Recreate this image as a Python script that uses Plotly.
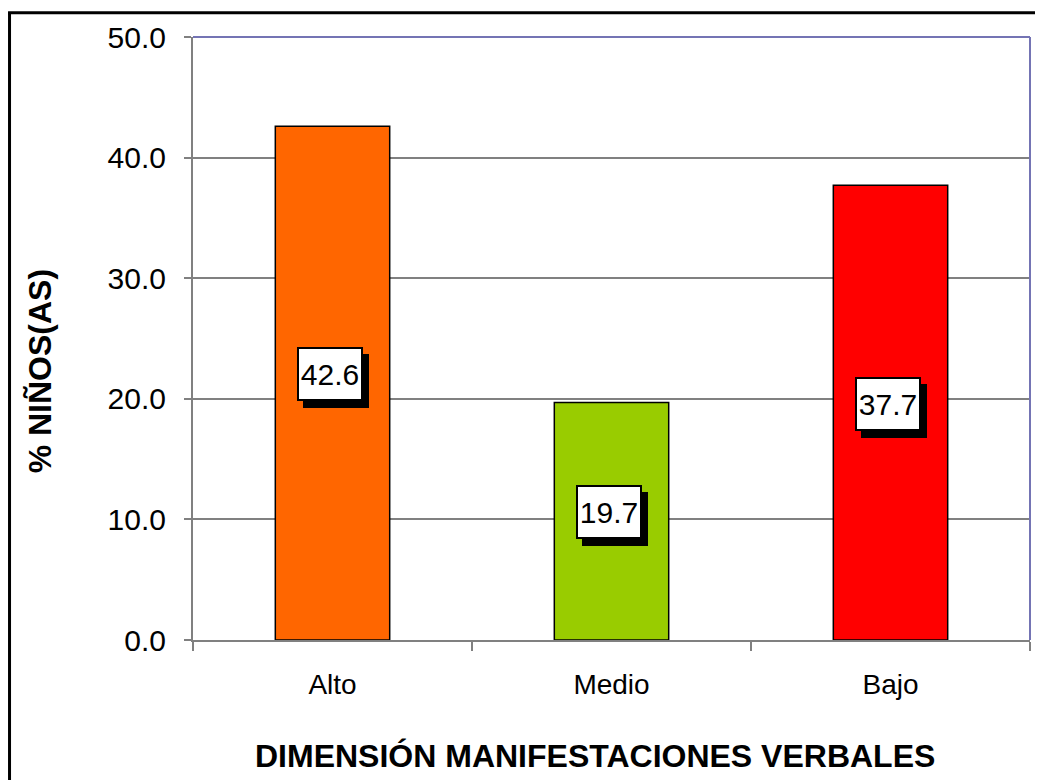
import plotly.graph_objects as go

categories = ["Alto", "Medio", "Bajo"]
values = [42.6, 19.7, 37.7]
bar_colors = ["#FF6600", "#99CC00", "#FF0000"]
y_ticks = [0, 10, 20, 30, 40, 50]
y_title = "% NIÑOS(AS)"
x_title = "DIMENSIÓN MANIFESTACIONES VERBALES"

FONT = "Liberation Sans, Arial, sans-serif"

fig = go.Figure()
fig.add_trace(go.Bar(
    x=categories, y=values,
    marker=dict(color=bar_colors, line=dict(color="black", width=1.5)),
    width=0.41, showlegend=False, hoverinfo="x+y",
))

# value labels: shadow then white box
for c, v in zip(categories, values):
    fig.add_annotation(x=c, y=v / 2, xref="x", yref="y", text="",
                       showarrow=False, width=62, height=50,
                       bgcolor="black", borderwidth=2, bordercolor="black", borderpad=0,
                       xshift=3, yshift=2)
    fig.add_annotation(x=c, y=v / 2, xref="x", yref="y", text=f"{v:.1f}",
                       showarrow=False, width=62, height=50,
                       bgcolor="white", borderwidth=2, bordercolor="black", borderpad=0,
                       font=dict(family=FONT, size=30, color="black"),
                       xshift=-3, yshift=9)

# axis titles
fig.add_annotation(x=0.480, y=-0.193, xref="paper", yref="paper", text=x_title,
                   showarrow=False, xanchor="center", yanchor="middle",
                   font=dict(family=FONT, size=32, color="black", weight="bold"))
fig.add_annotation(x=-0.1828, y=0.4455, xref="paper", yref="paper", text=y_title,
                   showarrow=False, xanchor="center", yanchor="middle", textangle=-90,
                   font=dict(family=FONT, size=32, color="black", weight="bold"))

# plot area top/right border (purple) and outer black frame
fig.add_shape(type="line", xref="paper", yref="paper", x0=0, x1=1, y0=1, y1=1,
              line=dict(color="#7474B4", width=2))
fig.add_shape(type="line", xref="paper", yref="paper", x0=1, x1=1, y0=0, y1=1,
              line=dict(color="#7474B4", width=2))
fig.add_shape(type="rect", xref="paper", yref="paper",
              x0=-0.2192, x1=1.1, y0=-0.4, y1=1.0404,
              line=dict(color="black", width=3), fillcolor="rgba(0,0,0,0)")

fig.update_layout(
    width=1035, height=772,
    margin=dict(l=185, r=13, t=26, b=140),
    paper_bgcolor="white", plot_bgcolor="white",
    font=dict(family=FONT, color="black"),
    bargap=0.59,
)
fig.update_xaxes(
    showline=True, linecolor="#808080", linewidth=2,
    ticks="outside", tickson="boundaries", ticklen=9, tickwidth=2, tickcolor="#808080",
    tickfont=dict(family=FONT, size=28, color="black"),
    ticklabelstandoff=18,
    showgrid=False, zeroline=False,
)
fig.update_yaxes(
    range=[0, 50], tickvals=y_ticks, tickformat=".1f",
    showline=True, linecolor="#808080", linewidth=2,
    ticks="outside", ticklen=7, tickwidth=2, tickcolor="#808080",
    tickfont=dict(family=FONT, size=30, color="black"),
    ticklabelstandoff=12,
    showgrid=True, gridcolor="#808080", gridwidth=1.5,
    zeroline=False,
)

fig.write_html("out.html")
